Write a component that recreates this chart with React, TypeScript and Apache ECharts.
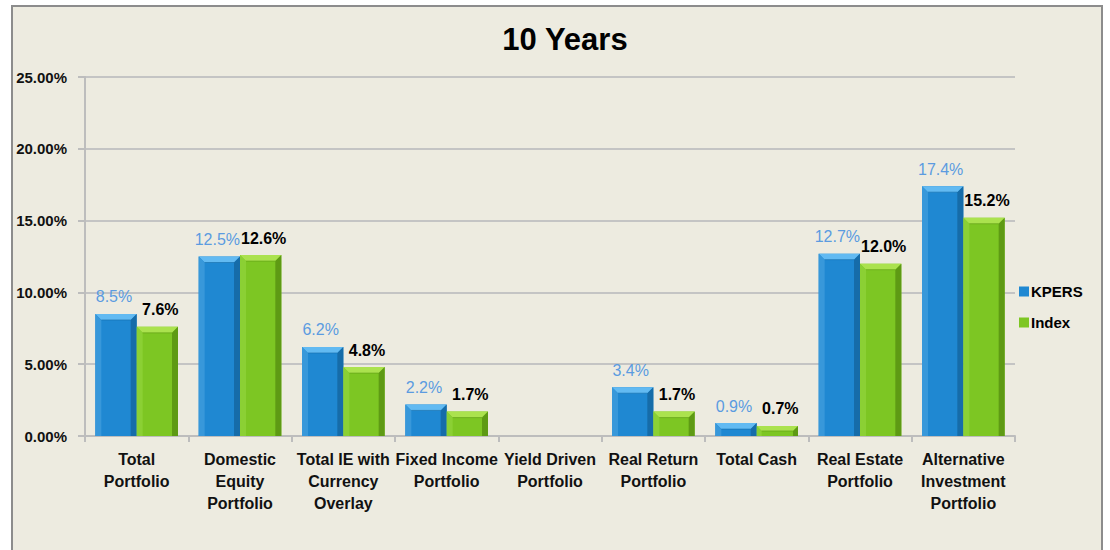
import React, { useEffect, useRef } from "react";
import * as echarts from "echarts";

const categories = [
  "Total\nPortfolio",
  "Domestic\nEquity\nPortfolio",
  "Total IE with\nCurrency\nOverlay",
  "Fixed Income\nPortfolio",
  "Yield Driven\nPortfolio",
  "Real Return\nPortfolio",
  "Total Cash",
  "Real Estate\nPortfolio",
  "Alternative\nInvestment\nPortfolio",
];
const kpers: (number | null)[] = [8.5, 12.5, 6.2, 2.2, null, 3.4, 0.9, 12.7, 17.4];
const indexVals: (number | null)[] = [7.6, 12.6, 4.8, 1.7, null, 1.7, 0.7, 12.0, 15.2];
const seriesNames = ["KPERS", "Index"];

const FONT = "'Liberation Sans', Arial, sans-serif";

const BLUE = { main: "#1F88D2", light: "#62BAF2", left: "#3898DA", dark: "#166CA9" };
const GREEN = { main: "#7DC623", light: "#ABE24E", left: "#8BD034", dark: "#5E9A14" };

function bevel(side: number, pal: typeof BLUE) {
  return (params: any, api: any) => {
    const v = api.value(1);
    if (v == null || isNaN(v)) return null;
    const idx = api.value(0);
    const top = api.coord([idx, v]);
    const base = api.coord([idx, 0]);
    const W = api.size([1, 0])[0];
    const bw = W * 0.4;
    const x0 = side === 0 ? top[0] - bw : top[0];
    const x1 = x0 + bw;
    const y0 = top[1];
    const y1 = base[1];
    const b = Math.min(6, (y1 - y0) / 2, bw / 4);
    return {
      type: "group",
      silent: true,
      children: [
        {
          type: "polygon",
          shape: { points: [[x0, y0], [x1, y0], [x1 - b, y0 + b], [x0 + b, y0 + b]] },
          style: { fill: pal.light },
        },
        {
          type: "polygon",
          shape: { points: [[x1, y0], [x1, y1], [x1 - b, y1], [x1 - b, y0 + b]] },
          style: { fill: pal.dark },
        },
        {
          type: "polygon",
          shape: { points: [[x0, y0], [x0 + b, y0 + b], [x0 + b, y1], [x0, y1]] },
          style: { fill: pal.left },
        },
        {
          type: "line",
          shape: { x1: x0 + b, y1: y0 + b, x2: x1 - b, y2: y0 + b },
          style: { stroke: pal.dark, lineWidth: 1, opacity: 0.6 },
        },
      ],
    };
  };
}

export default function App() {
  const ref = useRef<HTMLDivElement>(null);
  useEffect(() => {
    if (!ref.current) return;
    const chart = echarts.init(ref.current, undefined, { renderer: "svg" });
    const toPairs = (arr: (number | null)[]) =>
      arr.map((v, i) => [i, v]).filter((p) => p[1] != null);
    chart.setOption({
      animation: false,
      backgroundColor: "#ffffff",
      textStyle: { fontFamily: FONT },
      graphic: [
        {
          type: "rect",
          z: -10,
          silent: true,
          shape: { x: 12, y: 6, width: 1090, height: 580 },
          style: { fill: "#EDEBE0", stroke: "#8C8C8C", lineWidth: 2 },
        },
      ],
      title: {
        text: "10 Years",
        left: 560,
        textAlign: "center",
        top: 19,
        textStyle: { fontFamily: FONT, fontSize: 31, fontWeight: "bold", color: "#000" },
      },
      legend: {
        data: seriesNames,
        orient: "vertical",
        left: 1014,
        top: 279,
        itemWidth: 10,
        itemHeight: 10,
        itemGap: 16,
        icon: "rect",
        textStyle: { fontFamily: FONT, fontSize: 15, fontWeight: "bold", color: "#000", padding: [0, 0, 0, -3] },
      },
      grid: { left: 85, right: 95, top: 77, bottom: 114, containLabel: false },
      xAxis: {
        type: "category",
        data: categories,
        axisLine: { lineStyle: { color: "#BDBDBD", width: 2 } },
        axisTick: { show: true, length: 6, lineStyle: { color: "#BDBDBD", width: 2 } },
        axisLabel: {
          interval: 0,
          fontFamily: FONT,
          fontSize: 16,
          fontWeight: "bold",
          color: "#111",
          lineHeight: 22,
          margin: 12,
        },
      },
      yAxis: {
        type: "value",
        min: 0,
        max: 25,
        interval: 5,
        axisLine: { show: true, lineStyle: { color: "#BDBDBD", width: 2 } },
        axisTick: { show: true, length: 7, lineStyle: { color: "#BDBDBD", width: 2 } },
        splitLine: { lineStyle: { color: "#C4C4C4", width: 2 } },
        axisLabel: {
          fontFamily: FONT,
          fontSize: 15,
          fontWeight: "bold",
          color: "#111",
          margin: 18,
          formatter: (v: number) => v.toFixed(2) + "%",
        },
      },
      series: [
        {
          name: "KPERS",
          type: "bar",
          data: kpers,
          barGap: "0%",
          barCategoryGap: "20%",
          itemStyle: { color: BLUE.main },
          label: {
            show: true,
            position: "top",
            distance: 9,
            offset: [-2, 0],
            fontFamily: FONT,
            fontSize: 16,
            color: "#5B9BE0",
            formatter: (p: any) => Number(p.value).toFixed(1) + "%",
          },
        },
        {
          name: "Index",
          type: "bar",
          data: indexVals,
          barGap: "0%",
          barCategoryGap: "20%",
          itemStyle: { color: GREEN.main },
          label: {
            show: true,
            position: "top",
            distance: 9,
            offset: [3, 0],
            fontFamily: FONT,
            fontSize: 16,
            fontWeight: "bold",
            color: "#000",
            formatter: (p: any) => Number(p.value).toFixed(1) + "%",
          },
        },
        {
          name: "KPERS bevel",
          type: "custom",
          silent: true,
          z: 3,
          renderItem: bevel(0, BLUE),
          data: toPairs(kpers),
        },
        {
          name: "Index bevel",
          type: "custom",
          silent: true,
          z: 3,
          renderItem: bevel(1, GREEN),
          data: toPairs(indexVals),
        },
      ],
    });
    return () => chart.dispose();
  }, []);
  return (
    <div
      ref={ref}
      style={{ position: "absolute", left: 0, top: 0, width: 1110, height: 550, background: "#fff" }}
    />
  );
}
